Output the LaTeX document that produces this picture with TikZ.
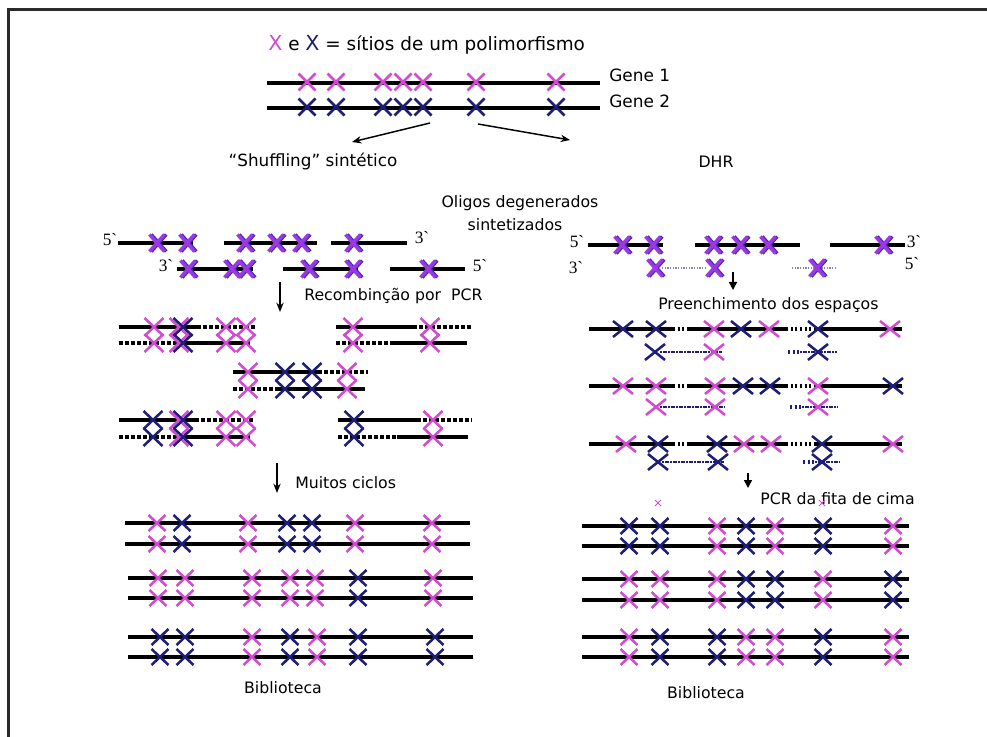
\documentclass[tikz,border=0pt]{standalone}
\usepackage{fontspec}
\setmainfont{DejaVu Sans}
\newfontfamily\endsfont{Liberation Serif}[Ligatures=TeXOff]
\usetikzlibrary{arrows.meta}

\definecolor{pk}{HTML}{D24BD2}
\definecolor{bl}{HTML}{1E1E78}
\definecolor{pu}{HTML}{9B38E2}
\definecolor{pub}{HTML}{4A2DB4}
\definecolor{framecol}{HTML}{2A2A2A}

\tikzset{
  pics/cross/.style={code={\draw (-1,-1) -- (1,1) (-1,1) -- (1,-1);}},
  xg/.style={line width=1.9pt, xscale=8.5, yscale=8.5},
  xo/.style={line width=2.6pt, xscale=7.5, yscale=8.5},
  xr/.style={line width=1.9pt, xscale=9.5, yscale=9},
  xf/.style={line width=1.9pt, xscale=10, yscale=8},
  xl/.style={line width=1.9pt, xscale=8.5, yscale=8},
  xtiny/.style={line width=0.6pt, xscale=3, yscale=3},
  strand/.style={line width=2.3pt},
  dotstrand/.style={line width=2.3pt, dash pattern=on 3pt off 1.5pt},
  gapdots/.style={line width=2.3pt, dash pattern=on 1.5pt off 2pt},
  fillstrand/.style={bl, line width=1.8pt, dash pattern=on 1.5pt off 0.5pt},
  thindots/.style={bl!55, line width=1pt, dash pattern=on 1pt off 1pt},
  lbl/.style={inner sep=0pt, font=\fontsize{11.8}{14}\selectfont},
  endlbl/.style={inner sep=0pt, font=\endsfont\fontsize{13}{15}\selectfont},
  flow/.style={line width=1.1pt, -{Stealth[length=7pt, width=5.5pt]}},
  tick/.style={line width=1.1pt, -{Triangle[length=6pt, width=6pt]}},
}

% a row of crosses: style, y, list of x/colour
\newcommand\crossrow[3]{\foreach \x/\c in {#3}{\pic[color=\c,#1] at (\x,#2) {cross};}}
% purple oligo crosses with a blue shadow
\newcommand\oligorow[2]{\foreach \x in {#2}{%
  \pic[color=pub, xshift=1.3pt, xo] at (\x,#1) {cross};
  \pic[color=pu, xo] at (\x,#1) {cross};}}
% a double-stranded library member
\newcommand\libpair[5]{%
  \draw[strand] (#3,#1) -- (#4,#1);
  \draw[strand] (#3,#2) -- (#4,#2);
  \crossrow{xl}{#1}{#5}
  \crossrow{xl}{#2}{#5}}

\begin{document}
\begin{tikzpicture}[x=0.75pt, y=-0.75pt]
\useasboundingbox (0,0) rectangle (987,737);

% frame
\draw[framecol, line width=2.2pt] (8.5,737) -- (8.5,9.5) -- (987,9.5);

% ---------- legend and parental genes ----------
\node[inner sep=0pt, anchor=west, font=\fontsize{13.8}{16}\selectfont] (legend) at (268,45)
  {\textcolor{pk}{\fontsize{15.5}{16}\selectfont X} e \textcolor{bl}{\fontsize{15.5}{16}\selectfont X} = sítios de um polimorfismo};
\draw[strand] (267,83) -- (600,83);
\draw[strand] (267,108) -- (600,108);
\crossrow{xg}{82}{307/pk,336/pk,383/pk,403/pk,423/pk,476/pk,556/pk}
\crossrow{xg}{107}{307/bl,336/bl,383/bl,403/bl,423/bl,476/bl,556/bl}
\node[lbl, anchor=west, font=\fontsize{12.7}{15}\selectfont] (gene1) at (609,75) {Gene 1};
\node[lbl, anchor=west, font=\fontsize{12.7}{15}\selectfont] (gene2) at (609,101) {Gene 2};

\coordinate (splitL) at (430,123);
\coordinate (splitR) at (478,124);
\coordinate (toL) at (352,142);
\coordinate (toR) at (570,140);
\draw[flow] (splitL) -- (toL);
\draw[flow] (splitR) -- (toR);

\node[lbl, font=\fontsize{12.6}{15}\selectfont] (shuf) at (313,162) {“Shuffling” sintético};
\node[lbl] (dhr) at (716,162) {DHR};
\node[lbl] (olig1) at (520,203) {Oligos degenerados};
\node[lbl] (olig2) at (515,225) {sintetizados};

% ---------- synthetic shuffling: oligos ----------
\node[endlbl] (l5a) at (110,240) {5`};
\node[endlbl] (l3a) at (422,238) {3`};
\node[endlbl] (l3b) at (166,266) {3`};
\node[endlbl] (l5b) at (480,266) {5`};
\draw[strand] (118,243) -- (193,243);
\draw[strand] (224,243) -- (317,243);
\draw[strand] (331,243) -- (407,243);
\draw[strand] (177,269) -- (253,269);
\draw[strand] (283,269) -- (358,269);
\draw[strand] (390,269) -- (465,269);
\oligorow{243}{157,187,245,276,301,353}
\oligorow{269}{188,232,246,309,353,428}

\coordinate (pcrA) at (280,282);
\coordinate (pcrB) at (280,312);
\draw[flow] (pcrA) -- (pcrB);
\node[lbl, anchor=west] (pcr) at (304,296) {Recombinção por \ PCR};

% ---------- recombination by PCR ----------
% block top-left
\draw[strand] (119,327) -- (197,327);
\draw[dotstrand] (197,327) -- (255,327);
\draw[dotstrand] (119,343) -- (177,343);
\draw[strand] (177,343) -- (250,343);
\foreach \yy in {327,343}{\crossrow{xr}{\yy}{154/pk,179/pk,183/bl,226/pk,246/pk}}
% block top-right
\draw[strand] (336,327) -- (413,327);
\draw[dotstrand] (413,327) -- (472,327);
\draw[dotstrand] (336,343) -- (393,343);
\draw[strand] (393,343) -- (467,343);
\foreach \yy in {327,343}{\crossrow{xr}{\yy}{353/pk,430/pk}}
% block middle
\draw[strand] (233,372) -- (318,372);
\draw[dotstrand] (318,372) -- (368,372);
\draw[dotstrand] (233,389) -- (277,389);
\draw[strand] (277,389) -- (365,389);
\foreach \yy in {372,389}{\crossrow{xr}{\yy}{248/pk,285/bl,312/bl,347/pk}}
% block bottom-left
\draw[strand] (119,420) -- (195,420);
\draw[dotstrand] (195,420) -- (253,420);
\draw[dotstrand] (119,437) -- (177,437);
\draw[strand] (177,437) -- (250,437);
\foreach \yy in {420,437}{\crossrow{xr}{\yy}{153/bl,179/pk,183/bl,226/pk,246/pk}}
% block bottom-right
\draw[strand] (338,420) -- (417,420);
\draw[dotstrand] (417,420) -- (472,420);
\draw[dotstrand] (338,437) -- (397,437);
\draw[strand] (397,437) -- (468,437);
\foreach \yy in {420,437}{\crossrow{xr}{\yy}{354/bl,433/pk}}

\coordinate (cycA) at (277,463);
\coordinate (cycB) at (277,493);
\draw[flow] (cycA) -- (cycB);
\node[lbl, anchor=west] (cyc) at (295,483) {Muitos ciclos};

% ---------- library (shuffling) ----------
\libpair{523}{544}{125}{470}{157/pk,182/bl,248/pk,287/bl,312/bl,355/pk,432/pk}
\libpair{578}{598}{128}{473}{158/pk,185/pk,252/pk,290/pk,315/pk,358/bl,433/pk}
\libpair{637}{657}{128}{473}{160/bl,185/bl,252/pk,290/bl,317/pk,358/bl,435/bl}
\node[lbl] (bibL) at (283,688) {Biblioteca};

% ---------- DHR: oligos on the template ----------
\node[endlbl] (r5a) at (577,242) {5`};
\node[endlbl] (r3a) at (914,242) {3`};
\node[endlbl] (r3b) at (576,268) {3`};
\node[endlbl] (r5b) at (912,264) {5`};
\draw[strand] (588,245) -- (663,245);
\draw[strand] (695,245) -- (800,245);
\draw[strand] (830,245) -- (905,245);
\oligorow{245}{622,653,713,740,768,883}
\draw[thindots] (662,268) -- (707,268);
\draw[thindots] (792,268) -- (835,268);
\oligorow{268}{655,714,817}

\coordinate (fillA) at (733,272);
\coordinate (fillB) at (733,290);
\draw[tick] (fillA) -- (fillB);
\node[lbl, anchor=west] (fill) at (658,305) {Preenchimento dos espaços};

% ---------- DHR: gap filling ----------
\foreach \yy in {329,386,444}{
  \draw[strand] (589,\yy) -- (673,\yy);
  \draw[gapdots] (673,\yy) -- (688,\yy);
  \draw[strand] (688,\yy) -- (786,\yy);
  \draw[gapdots] (786,\yy) -- (815,\yy);
  \draw[strand] (815,\yy) -- (902,\yy);}
\crossrow{xf}{329}{623/bl,656/bl,714/pk,741/bl,769/pk,818/bl,890/pk}
\crossrow{xf}{386}{623/pk,656/pk,715/pk,743/bl,770/bl,818/pk,893/bl}
\crossrow{xf}{444}{626/pk,658/bl,717/bl,744/pk,771/pk,822/bl,893/pk}

\draw[fillstrand] (660,352) -- (722,352);
\draw[gapdots, bl] (788,352) -- (800,352);
\draw[fillstrand] (800,352) -- (837,352);
\crossrow{xf}{352}{655/bl,714/pk,818/bl}
\draw[fillstrand] (660,407) -- (725,407);
\draw[gapdots, bl] (790,407) -- (802,407);
\draw[fillstrand] (802,407) -- (838,407);
\crossrow{xf}{407}{656/pk,715/pk,818/pk}
\draw[fillstrand] (662,462) -- (724,462);
\draw[gapdots, bl] (803,462) -- (815,462);
\draw[fillstrand] (815,462) -- (840,462);
\crossrow{xf}{462}{658/bl,718/bl,822/bl}

\coordinate (topA) at (748,473);
\coordinate (topB) at (748,488);
\draw[tick] (topA) -- (topB);
\node[lbl, anchor=west] (top) at (760,499) {PCR da fita de cima};
\crossrow{xtiny}{503}{658/pk,822/pk}

% ---------- library (DHR) ----------
\libpair{526}{546}{582}{909}{629/bl,660/bl,717/pk,746/bl,775/pk,823/bl,893/pk}
\libpair{579}{600}{582}{909}{629/pk,660/pk,717/pk,746/bl,775/bl,823/pk,893/bl}
\libpair{637}{657}{582}{909}{629/pk,660/bl,717/bl,746/pk,775/pk,823/bl,893/pk}
\node[lbl] (bibR) at (706,693) {Biblioteca};
\end{tikzpicture}
\end{document}
